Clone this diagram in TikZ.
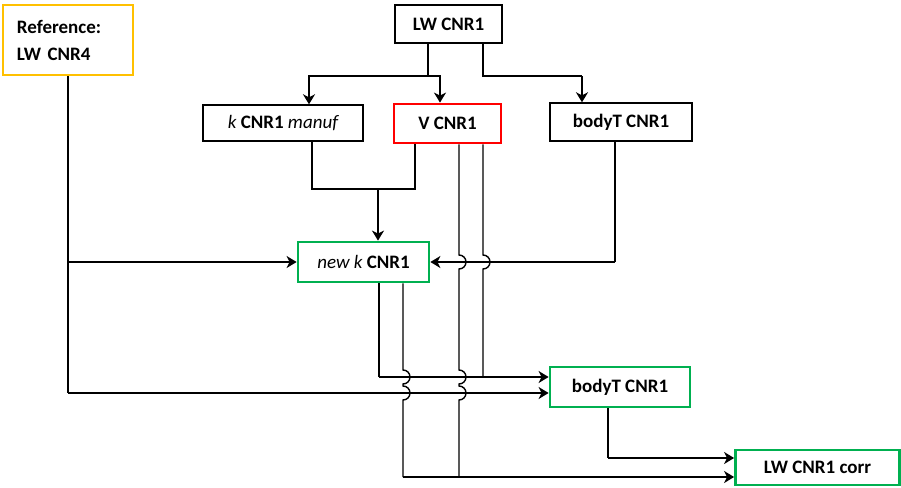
\documentclass[tikz,border=0pt]{standalone}
\usepackage{fontspec}
\setmainfont{Carlito}
\usepackage{tikz}
\usetikzlibrary{arrows.meta}
\definecolor{refyellow}{RGB}{255,192,0}
\definecolor{outred}{RGB}{255,0,0}
\definecolor{newgreen}{RGB}{0,176,80}

\begin{document}
\begin{tikzpicture}[
				x=0.5pt, y=-0.5pt,
				box style/.style={
					draw,
					line width=0.7pt,
					align=center,
					inner sep=2pt,
					font=\bfseries\fontsize{9.5}{11}\selectfont,
					fill=none
				},
				ref style/.style={box style, draw=refyellow, line width=1.4pt},
				red style/.style={box style, draw=outred, line width=1.4pt},
				green style/.style={box style, draw=newgreen, line width=1.4pt},
				line style/.style={line width=0.7pt},
				arrow style/.style={->, line width=1.2pt},
				>={Stealth[length=5pt, width=6pt, inset=1.5pt]}
				]
				
				\useasboundingbox (0,0) rectangle (901,488);
				
				\node[ref style, minimum width=65pt, minimum height=35pt, text width=51pt, align=left] (ref) at (68,40)
				{Reference:\\[2.5pt]LW CNR4};
				
				\node[box style, minimum width=53.5pt, minimum height=19pt] (lw) at (448.5,24)
				{LW CNR1};
				
				\node[box style, minimum width=80pt, minimum height=18pt] (k) at (283,123)
				{{\mdseries\itshape k} CNR1 {\mdseries\itshape manuf}};
				
				\node[red style, minimum width=53.5pt, minimum height=19.5pt] (v) at (447.5,123.5)
				{V CNR1};
				
				\node[box style, minimum width=71pt, minimum height=19pt] (bt) at (621,122)
				{bodyT CNR1};
				
				\node[green style, minimum width=65.5pt, minimum height=20pt] (nk) at (363.5,262)
				{{\mdseries\itshape new k} CNR1};
				
				\node[green style, minimum width=70pt, minimum height=20pt] (bt2) at (620,387)
				{bodyT CNR1};
				
				\node[green style, minimum width=82pt, minimum height=17.5pt] (corr) at (817.5,467.5)
				{LW CNR1 corr};
				
				% junctions
				\coordinate (ja) at (428,76);
				\coordinate (jb) at (483,76);
				\coordinate (jc) at (582,76);
				\coordinate (jm) at (378,189);
				\coordinate (jr1) at (68,262);
				\coordinate (jr2) at (68,393);
				\coordinate (jb2) at (615,262);
				\coordinate (jk) at (379,377);
				\coordinate (jv) at (483,377);
				\coordinate (jn) at (403,477);
				\coordinate (jw) at (459,477);
				\coordinate (jt) at (608,458);
				
				% from LW CNR1
				\draw[line style] (lw.south -| ja) -- (ja);
				\draw[arrow style] (ja) -| ([xshift=13pt]k.north);
				\draw[arrow style] (ja) -| ([xshift=-3.75pt]v.north);
				\draw[line style] (lw.south -| jb) -- (jb) -- (jc);
				\draw[arrow style] (jc) -- (bt.north -| jc);
				
				% k and V into new k
				\draw[line style] ([xshift=14.5pt]k.south) |- (jm) -| ([xshift=-16.25pt]v.south);
				\draw[arrow style] (jm) -- (nk.north -| jm);
				
				% reference
				\draw[line style] (ref.south) -- (jr2);
				\draw[arrow style] (jr1) -- (nk.west);
				\draw[arrow style] (jr2) -- (bt2.west |- jr2);
				
				% bodyT into new k
				\draw[line style] (bt.south -| jb2) -- (jb2);
				\draw[arrow style] (jb2) -- (nk.east);
				
				% V lines with hops
				\draw[line style] ([xshift=5.75pt]v.south) -- (459,255)
					arc[start angle=90, end angle=-90, radius=3.5pt] -- (459,370)
					arc[start angle=90, end angle=-90, radius=3.5pt] -- (459,386)
					arc[start angle=90, end angle=-90, radius=3.5pt] -- (jw);
				\draw[line style] ([xshift=17.75pt]v.south) -- (483,255)
					arc[start angle=90, end angle=-90, radius=3.5pt] -- (jv);
				
				% new k lines
				\draw[line style] ([xshift=7.75pt]nk.south) -- (jk);
				\draw[arrow style] (jk) -- (bt2.west |- jk);
				\draw[line style] ([xshift=19.75pt]nk.south) -- (403,370)
					arc[start angle=90, end angle=-90, radius=3.5pt] -- (403,386)
					arc[start angle=90, end angle=-90, radius=3.5pt] -- (jn);
				\draw[arrow style] (jn) -- (corr.west |- jn);
				
				% bodyT into corr
				\draw[line style] (bt2.south -| jt) -- (jt);
				\draw[arrow style] (jt) -- (corr.west |- jt);
				
			\end{tikzpicture}
\end{document}
